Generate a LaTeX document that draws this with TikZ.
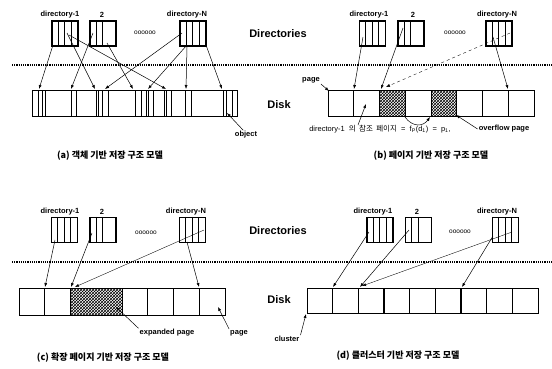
\documentclass[tikz,border=0pt]{standalone}
\usepackage{fontspec}
\setmainfont{Liberation Sans}
\newfontfamily\kr{Noto Sans CJK KR}
\usepackage{tikz}
\usetikzlibrary{arrows.meta,calc,patterns}

\begin{document}
\begin{tikzpicture}[x=1pt, y=-1pt,
  dirbox/.style={draw, line width=1.1pt, minimum width=26pt, minimum height=25pt, inner sep=0pt},
  diskbox/.style={draw, line width=1.2pt, anchor=north west, inner sep=0pt},
  diskline/.style={line width=0.6pt},
  ptr/.style={-{Latex[length=4pt,width=3pt]}, line width=0.5pt},
  ptrthin/.style={ptr, line width=0.35pt},
  lbl/.style={font=\fontsize{7.5}{9}\selectfont\bfseries, inner sep=1pt},
  side/.style={font=\fontsize{11}{13}\selectfont\bfseries},
  captxt/.style={font=\fontsize{9}{11}\selectfont\kr\bfseries},
  sep/.style={line width=1.3pt, dash pattern=on 1.2pt off 1pt}]
  \useasboundingbox (0,0) rectangle (552,368);
  % separators
  \draw[sep] (12,65) -- (552,65);
  \draw[sep] (12,262) -- (552,262);
  % side labels
  \node[side] (dirsT) at (278,34) {Directories};
  \node[side] (diskT) at (279,105) {Disk};
  \node[side] (dirsB) at (278,231) {Directories};
  \node[side] (diskB) at (279,300) {Disk};

  % directory boxes of all four panels
  \node[dirbox] (a1) at (65,33.5) {};
  \node[dirbox] (a2) at (103,33.5) {};
  \node[dirbox] (aN) at (193,33.5) {};
  \node[dirbox] (b1) at (372.5,33.5) {};
  \node[dirbox] (b2) at (411,33.5) {};
  \node[dirbox] (bN) at (499,33.5) {};
  \node[dirbox] (c1) at (64.5,230) {};
  \node[dirbox] (c2) at (103,230) {};
  \node[dirbox] (cN) at (192.5,230) {};
  \node[dirbox] (d1) at (380,230) {};
  \node[dirbox] (d2) at (418.5,230) {};
  \node[dirbox] (dN) at (505.5,230) {};
  \foreach \b/\k in {a1/3,a2/2,aN/3,b1/3,b2/2,bN/3,c1/3,c2/2,cN/3,d1/3,d2/2,dN/3}
    \foreach \i in {1,...,\k}
      \draw[diskline] ($(\b.north west)+(\i*6.5,0)$) -- ($(\b.south west)+(\i*6.5,0)$);
  % directory labels
  \foreach \p/\x/\y in {a/60/15,b/369/15,c/60/212,d/373/212}
    \node[lbl] (\p 1t) at (\x,\y) {directory-1};
  \foreach \p/\x/\y in {a/102/15,b/413/15,c/102/212,d/417/212}
    \node[lbl] (\p 2t) at (\x,\y) {2};
  \foreach \p/\x/\y in {a/187/15,b/497/15,c/186/212,d/497/212}
    \node[lbl] (\p Nt) at (\x,\y) {directory-N};
  \foreach \p/\x/\y in {a/145/33,b/455/33,c/146/233,d/460/232}
    \node[lbl, font=\fontsize{6.5}{8}\selectfont] (\p dots) at (\x,\y) {oooooo};

  % (a) object based
  \node[diskbox, minimum width=205pt, minimum height=26pt] (diskA) at (32,90) {};
  \foreach \x in {38,42,45,71,76,96,98,102,108,135,141,146,148,153,164,166,171,185,191,223,226,232}
    \draw[diskline] (\x,90) -- (\x,116);
  \foreach \n/\sx/\sy/\ex in {1/53/45/39, 2/67/33/95, 3/69/35/166, 4/93/33/71, 5/107/43/133,
      6/182/33/105, 7/187/45/148, 8/187/47/186, 9/206/45/222} {
    \coordinate (as\n) at (\sx,\sy);
    \coordinate (ae\n) at (\ex,89);
    \draw[ptr] (as\n) -- (ae\n);
  }
  \node[lbl] (objA) at (246,135) {object};
  \coordinate (objP) at (227,113);
  \draw[ptr] (objA.120) -- (objP);
  \node[captxt] (capA) at (110,156) {(a) 객체 기반 저장 구조 모델};

  % (b) page based
  \fill[pattern=crosshatch] (379.5,90) rectangle ++(25.75,26);
  \fill[pattern=crosshatch] (431,90) rectangle ++(25.75,26);
  \node[diskbox, minimum width=206pt, minimum height=26pt] (diskBx) at (328,90) {};
  \foreach \i in {1,...,7}
    \draw[diskline] (328+\i*25.75,90) -- ++(0,26);
  \foreach \n/\sx/\sy/\ex in {1/363/37/354, 2/403/28/381, 4/493/37/508} {
    \coordinate (bs\n) at (\sx,\sy);
    \coordinate (be\n) at (\ex,89);
    \draw[ptr] (bs\n) -- (be\n);
  }
  \coordinate (bs3) at (510,33);
  \coordinate (be3) at (386,87);
  \draw[ptrthin, dashed] (bs3) -- (be3);
  % overflow link
  \coordinate (ovS) at (405,117);
  \coordinate (ovE) at (430,117);
  \draw[ptr] (ovS) .. controls (412,127) and (423,127) .. (ovE);
  \node[lbl] (pgB) at (311,80) {page};
  \coordinate (pgBP) at (329,91);
  \draw[ptr] (pgB.south east) -- (pgBP);
  \node[font=\fontsize{7.5}{9}\selectfont, inner sep=1pt] (refB) at (380,129)
    {directory-1 ~{\kr 의~ 참조~ 페이지} ~=~ f\textsubscript{P}(d\textsubscript{1}) ~=~ p\textsubscript{1},};
  \coordinate (refS) at (358,125);
  \coordinate (refP) at (366,104);
  \draw[ptr] (refS) -- (refP);
  \node[lbl] (ovB) at (504,129) {overflow page};
  \coordinate (ovP) at (456,115);
  \draw[ptr] (ovB.west) -- (ovP);
  \node[captxt] (capB) at (431,156) {(b) 페이지 기반 저장 구조 모델};

  % (c) expanded page based
  \fill[pattern=crosshatch] (70.5,288) rectangle (122,315);
  \node[diskbox, minimum width=206pt, minimum height=27pt] (diskC) at (19,288) {};
  \foreach \x in {44.75,70.5,122,147.75,173.5,199.25}
    \draw[diskline] (\x,288) -- (\x,315);
  \foreach \n/\sx/\sy/\ex in {1/55/240/45, 2/92/233/71, 4/187/242/199} {
    \coordinate (cs\n) at (\sx,\sy);
    \coordinate (ce\n) at (\ex,287);
    \draw[ptr] (cs\n) -- (ce\n);
  }
  \coordinate (cs3) at (204,230);
  \coordinate (ce3) at (75,287);
  \draw[ptrthin] (cs3) -- (ce3);
  \node[lbl] (expC) at (167,333) {expanded page};
  \coordinate (expP) at (116,307);
  \draw[ptr] (expC.north west) -- (expP);
  \node[lbl] (pgC) at (239,333) {page};
  \coordinate (pgCP) at (218,307);
  \draw[ptr] (pgC.north west) -- (pgCP);
  \node[captxt] (capC) at (103,358) {(c) 확장 페이지 기반 저장 구조 모델};

  % (d) cluster based
  \node[diskbox, minimum width=231pt, minimum height=25pt] (diskD) at (307,288) {};
  \foreach \i in {1,2,4,5,7,8}
    \draw[diskline] (307+\i*25.667,288) -- ++(0,25);
  \foreach \i in {3,6}
    \draw[line width=1.2pt] (307+\i*25.667,288) -- ++(0,25);
  \foreach \n/\sx/\sy/\ex in {1/369/232/333, 2/409/230/360, 4/493/236/462} {
    \coordinate (ds\n) at (\sx,\sy);
    \coordinate (de\n) at (\ex,287);
    \draw[ptr] (ds\n) -- (de\n);
  }
  \coordinate (ds3) at (512,232);
  \coordinate (de3) at (362,286);
  \draw[ptrthin] (ds3) -- (de3);
  \node[lbl] (clD) at (287,339) {cluster};
  \coordinate (clP) at (306,314);
  \draw[ptr] (clD.north east) -- (clP);
  \node[captxt] (capD) at (398,356) {(d) 클러스터 기반 저장 구조 모델};
\end{tikzpicture}
\end{document}
